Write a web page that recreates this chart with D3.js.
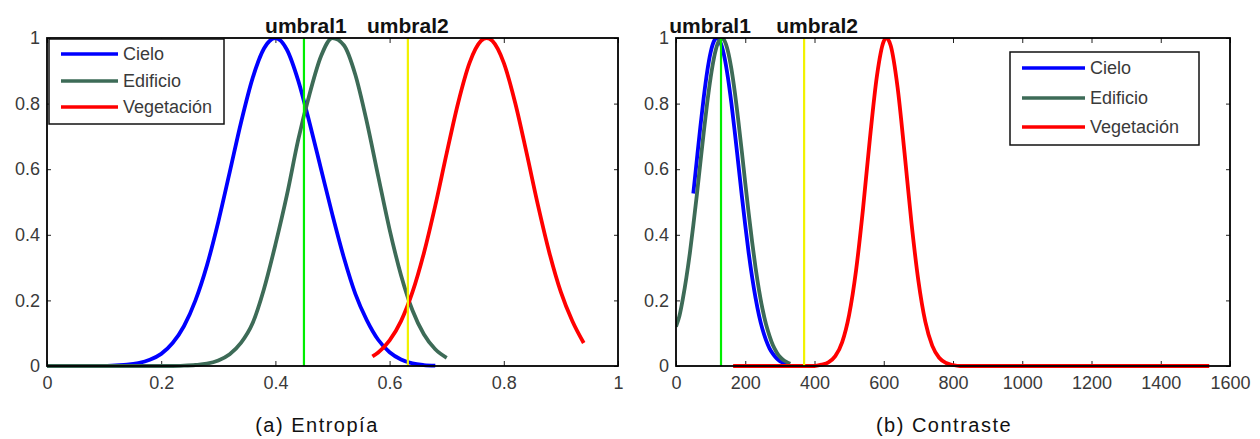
<!DOCTYPE html>
<html>
<head>
<meta charset="utf-8">
<script src="https://cdn.jsdelivr.net/npm/d3@7"></script>
<style>
  html, body { margin: 0; padding: 0; background: #fff; }
  svg { display: block; }
  text { font-family: "Liberation Sans", Arial, Helvetica, sans-serif; }
</style>
</head>
<body>
<svg id="chart" width="1260" height="439"></svg>
<script>
// ---- Panel (a): Entropía ----
const entX = [0, 0.02, 0.04, 0.06, 0.08, 0.10, 0.12, 0.14, 0.16, 0.18, 0.20, 0.22, 0.24, 0.26, 0.28, 0.30, 0.32, 0.34, 0.36, 0.38, 0.40, 0.42, 0.44, 0.46, 0.48, 0.50, 0.52, 0.54, 0.56, 0.58, 0.60, 0.62, 0.64, 0.66, 0.68, 0.70];
const entCielo = [0, 0, 0, 0, 0, 0, 0.002, 0.004, 0.009, 0.019, 0.037, 0.070, 0.122, 0.200, 0.306, 0.440, 0.591, 0.744, 0.877, 0.968, 1.0, 0.965, 0.870, 0.740, 0.600, 0.460, 0.330, 0.220, 0.140, 0.080, 0.042, 0.020, 0.008, 0.003, 0.001, null];
const entEdificio = [0, 0, 0, 0, 0, 0, 0, 0, 0, 0, 0, 0, 0.001, 0.003, 0.007, 0.017, 0.036, 0.071, 0.130, 0.235, 0.370, 0.520, 0.690, 0.830, 0.945, 1.0, 0.978, 0.888, 0.745, 0.579, 0.416, 0.277, 0.170, 0.097, 0.051, 0.025];
const entVegX = [0.57, 0.58, 0.60, 0.62, 0.64, 0.66, 0.68, 0.70, 0.72, 0.74, 0.76, 0.77, 0.78, 0.80, 0.82, 0.84, 0.86, 0.88, 0.90, 0.92, 0.94];
const entVegetacion = [0.029, 0.041, 0.078, 0.137, 0.225, 0.344, 0.489, 0.649, 0.802, 0.924, 0.991, 1.0, 0.991, 0.924, 0.802, 0.649, 0.489, 0.344, 0.225, 0.137, 0.070];
const entUmbrales = [0.45, 0.632];
const entXTicks = [0, 0.2, 0.4, 0.6, 0.8, 1];
const entXTickLabels = ["0", "0.2", "0.4", "0.6", "0.8", "1"];

// ---- Panel (b): Contraste ----
const conCieloX = [50, 60, 70, 80, 90, 100, 110, 118, 130, 140, 150, 160, 170, 180, 190, 200, 210, 220, 230, 240, 250, 260, 270, 280, 290, 300, 310, 320];
const conCielo = [0.526, 0.627, 0.726, 0.818, 0.897, 0.956, 0.991, 1.0, 0.982, 0.941, 0.879, 0.801, 0.711, 0.616, 0.520, 0.429, 0.344, 0.270, 0.206, 0.153, 0.111, 0.079, 0.054, 0.037, 0.024, 0.015, 0.010, 0.006];
const conEdificioX = [0, 10, 20, 30, 40, 50, 60, 70, 80, 90, 100, 110, 120, 132, 140, 150, 160, 170, 180, 190, 200, 210, 220, 230, 240, 250, 260, 270, 280, 290, 300, 310, 320, 330];
const conEdificio = [0.120, 0.153, 0.206, 0.270, 0.344, 0.429, 0.520, 0.616, 0.711, 0.801, 0.879, 0.941, 0.982, 1.0, 0.992, 0.960, 0.906, 0.834, 0.748, 0.655, 0.558, 0.465, 0.377, 0.298, 0.230, 0.173, 0.127, 0.092, 0.063, 0.043, 0.028, 0.018, 0.012, 0.007];
const conVegX = [165, 200, 300, 400, 420, 440, 460, 480, 500, 520, 540, 560, 580, 600, 608, 620, 640, 660, 680, 700, 720, 740, 760, 780, 800, 820, 900, 1000, 1200, 1400, 1540];
const conVegetacion = [0, 0, 0, 0, 0.004, 0.011, 0.030, 0.073, 0.156, 0.291, 0.478, 0.693, 0.882, 0.990, 1.0, 0.977, 0.849, 0.650, 0.437, 0.260, 0.135, 0.062, 0.025, 0.009, 0.003, 0, 0, 0, 0, 0, 0];
const conUmbrales = [130, 370];
const conXTicks = [0, 200, 400, 600, 800, 1000, 1200, 1400, 1600];
const conXTickLabels = ["0", "200", "400", "600", "800", "1000", "1200", "1400", "1600"];

// ---- Shared ----
const yTicks = [0, 0.2, 0.4, 0.6, 0.8, 1];
const yTickLabels = ["0", "0.2", "0.4", "0.6", "0.8", "1"];
const seriesNames = ["Cielo", "Edificio", "Vegetación"];
const seriesColors = ["#0000ff", "#3d6b57", "#ff0000"];
const umbralNames = ["umbral1", "umbral2"];
const umbralColors = ["#00ee00", "#f2f200"];
const captions = ["(a) Entropía", "(b) Contraste"];

const svg = d3.select("#chart");

const panels = [
  {
    domain: [0, 1], range: [47, 618],
    series: [
      { x: entX, y: entCielo },
      { x: entX, y: entEdificio },
      { x: entVegX, y: entVegetacion }
    ],
    umbrales: entUmbrales, labelShift: [2, 0],
    xTicks: entXTicks, xTickLabels: entXTickLabels,
    legend: { x: 49, y: 39, w: 175, h: 85, lineX0: 61, lineX1: 118, textX: 123, rows: [54, 81, 107] },
    caption: captions[0], captionX: 317
  },
  {
    domain: [0, 1600], range: [676, 1230],
    series: [
      { x: conCieloX, y: conCielo },
      { x: conEdificioX, y: conEdificio },
      { x: conVegX, y: conVegetacion }
    ],
    umbrales: conUmbrales, labelShift: [-11, 13],
    xTicks: conXTicks, xTickLabels: conXTickLabels,
    legend: { x: 1010, y: 52, w: 189, h: 93, lineX0: 1022, lineX1: 1085, textX: 1090, rows: [68, 98, 127] },
    caption: captions[1], captionX: 944
  }
];

const plotTop = 38, plotBottom = 366;
const y = d3.scaleLinear().domain([0, 1]).range([plotBottom, plotTop]);
const defs = svg.append("defs");

panels.forEach((p, pi) => {
  const x = d3.scaleLinear().domain(p.domain).range(p.range);
  const g = svg.append("g");
  const [x0, x1] = p.range;

  // clip at the top edge so the peaks sit under the frame
  const clipId = "clip" + pi;
  defs.append("clipPath").attr("id", clipId)
    .append("rect").attr("x", x0).attr("y", plotTop)
    .attr("width", x1 - x0).attr("height", plotBottom - plotTop + 6);

  // axes with inward ticks on all four sides
  const tickFmtX = (d, i) => p.xTickLabels[i];
  const tickFmtY = (d, i) => yTickLabels[i];

  const axB = g.append("g").attr("transform", `translate(0,${plotBottom})`)
    .call(d3.axisBottom(x).tickValues(p.xTicks).tickFormat(tickFmtX).tickSize(-5).tickPadding(10));
  const axT = g.append("g").attr("transform", `translate(0,${plotTop})`)
    .call(d3.axisTop(x).tickValues(p.xTicks).tickFormat("").tickSize(-5));
  const axL = g.append("g").attr("transform", `translate(${x0},0)`)
    .call(d3.axisLeft(y).tickValues(yTicks).tickFormat(tickFmtY).tickSize(-4).tickPadding(7));
  const axR = g.append("g").attr("transform", `translate(${x1},0)`)
    .call(d3.axisRight(y).tickValues(yTicks).tickFormat("").tickSize(-4));

  [axB, axT, axL, axR].forEach(a => {
    a.select(".domain").remove();
    a.selectAll(".tick line").attr("stroke", "#222").attr("stroke-width", 1);
    a.selectAll(".tick text").attr("fill", "#3a3a3a").style("font-size", "18px")
      .style("font-family", "'Liberation Sans', Arial, sans-serif");
  });

  // series curves
  const line = d3.line()
    .defined(d => d[1] !== null)
    .x(d => x(d[0]))
    .y(d => y(d[1]))
    .curve(d3.curveMonotoneX);

  const curves = g.append("g").attr("clip-path", `url(#${clipId})`);
  p.series.forEach((s, si) => {
    const pts = s.x.map((v, i) => [v, s.y[i]]);
    curves.append("path")
      .attr("d", line(pts))
      .attr("fill", "none")
      .attr("stroke", seriesColors[si])
      .attr("stroke-width", 3.8)
      .attr("stroke-linejoin", "round")
      .attr("stroke-linecap", "butt");
  });

  // threshold lines
  p.umbrales.forEach((u, ui) => {
    g.append("line")
      .attr("x1", x(u)).attr("x2", x(u))
      .attr("y1", plotTop).attr("y2", plotBottom)
      .attr("stroke", umbralColors[ui])
      .attr("stroke-width", 2.2);
    g.append("text")
      .attr("x", x(u) + p.labelShift[ui])
      .attr("y", 33)
      .attr("text-anchor", "middle")
      .attr("font-weight", "bold")
      .style("font-size", "21px")
      .attr("fill", "#111")
      .text(umbralNames[ui]);
  });

  // frame
  g.append("rect")
    .attr("x", x0).attr("y", plotTop)
    .attr("width", x1 - x0).attr("height", plotBottom - plotTop)
    .attr("fill", "none")
    .attr("stroke", "#000")
    .attr("stroke-width", 1.8);

  // legend
  const L = p.legend;
  const lg = g.append("g");
  lg.append("rect")
    .attr("x", L.x).attr("y", L.y).attr("width", L.w).attr("height", L.h)
    .attr("fill", "#fff").attr("stroke", "#111").attr("stroke-width", 1.5);
  seriesNames.forEach((name, si) => {
    lg.append("line")
      .attr("x1", L.lineX0).attr("x2", L.lineX1)
      .attr("y1", L.rows[si]).attr("y2", L.rows[si])
      .attr("stroke", seriesColors[si]).attr("stroke-width", 3.5);
    lg.append("text")
      .attr("x", L.textX).attr("y", L.rows[si])
      .attr("dy", "0.36em")
      .attr("fill", "#3a3a3a")
      .style("font-size", "18px")
      .text(name);
  });

  // caption
  g.append("text")
    .attr("x", p.captionX).attr("y", 432)
    .attr("text-anchor", "middle")
    .attr("fill", "#111")
    .style("font-size", "20px")
    .style("letter-spacing", "1.5px")
    .text(p.caption);
});
</script>
</body>
</html>
